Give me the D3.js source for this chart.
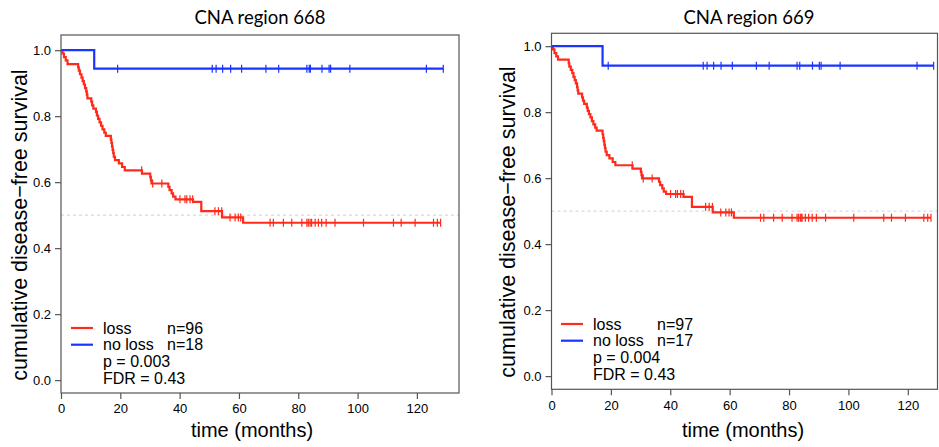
<!DOCTYPE html>
<html>
<head>
<meta charset="utf-8">
<script src="https://cdn.jsdelivr.net/npm/d3@7"></script>
<style>
  body { margin: 0; background: #fff; }
  svg text { font-family: "Liberation Sans", Arial, sans-serif; fill: #000; }
  .title { font-family: "Lato", "Open Sans", sans-serif; }
</style>
</head>
<body>
<svg id="chart" width="939" height="447"></svg>
<script>
// axis ticks
const xTicks = [0, 20, 40, 60, 80, 100, 120];
const yTicks = [0, 0.2, 0.4, 0.6, 0.8, 1.0];

// CNA region 668: [time, survival after step]
const lossSteps668 = [
  [0.5, 0.990], [1.0, 0.979], [1.6, 0.969], [2.2, 0.958], [5.8, 0.948],
  [6.0, 0.938], [6.4, 0.927], [6.9, 0.917], [7.3, 0.906], [7.7, 0.896],
  [8.1, 0.885], [8.5, 0.875], [8.7, 0.865], [8.9, 0.854], [10.2, 0.844],
  [10.5, 0.833], [10.9, 0.823], [11.8, 0.813], [12.1, 0.802], [12.5, 0.792],
  [13.0, 0.781], [13.5, 0.771], [14.0, 0.760], [14.6, 0.750], [15.1, 0.740],
  [16.8, 0.729], [17.0, 0.719], [17.2, 0.708], [17.4, 0.698], [17.6, 0.688],
  [17.8, 0.677], [18.2, 0.667], [19.5, 0.657], [20.6, 0.646], [21.5, 0.636],
  [27.3, 0.626], [30.1, 0.616], [30.3, 0.606], [30.5, 0.596], [36.2, 0.586],
  [36.6, 0.576], [37.3, 0.566], [37.8, 0.556], [38.6, 0.548], [44.5, 0.540],
  [47.3, 0.512], [54.3, 0.493], [61.4, 0.477]
];
const lossCensor668 = [27.2, 30.9, 34.0, 40.1, 41.8, 42.4, 43.5, 44.4, 51.9, 53.1,
  54.2, 57.0, 58.7, 59.8, 60.6, 70.5, 71.6, 75.0, 77.8, 81.2, 82.9, 83.4, 84.0,
  84.5, 85.7, 86.8, 87.9, 89.4, 92.4, 102.0, 112.1, 114.7, 119.4, 125.6, 126.9, 128.0];
const noLossSteps668 = [[11.2, 0.944]];
const noLossCensor668 = [19.1, 51.0, 52.3, 54.5, 57.2, 60.9, 69.1, 73.4, 82.9, 83.7,
  84.1, 88.0, 90.4, 90.9, 97.4, 123.2, 128.9];
const legend668 = ["n=96", "n=18", "p = 0.003", "FDR = 0.43"];

// CNA region 669
const lossSteps669 = [
  [0.5, 0.990], [1.0, 0.979], [1.6, 0.969], [2.2, 0.959], [5.8, 0.948],
  [6.0, 0.938], [6.5, 0.928], [7.0, 0.918], [7.4, 0.907], [7.8, 0.897],
  [8.2, 0.887], [8.6, 0.876], [8.8, 0.866], [9.0, 0.856], [10.3, 0.845],
  [10.6, 0.835], [11.0, 0.825], [11.9, 0.814], [12.2, 0.804], [12.6, 0.794],
  [13.1, 0.784], [13.6, 0.773], [14.1, 0.763], [14.7, 0.753], [15.2, 0.744],
  [17.2, 0.733], [17.4, 0.722], [17.6, 0.712], [17.8, 0.701], [18.0, 0.691],
  [18.2, 0.680], [18.6, 0.670], [19.5, 0.660], [20.6, 0.649], [21.5, 0.639],
  [27.3, 0.629], [30.1, 0.619], [30.3, 0.609], [30.5, 0.599], [36.2, 0.589],
  [36.6, 0.579], [37.3, 0.569], [37.8, 0.559], [38.6, 0.552], [44.5, 0.543],
  [47.3, 0.513], [54.3, 0.496], [61.4, 0.480]
];
const lossCensor669 = [27.2, 30.9, 33.9, 40.1, 41.8, 42.4, 43.5, 44.4, 51.9, 53.1,
  54.2, 57.0, 58.7, 59.8, 60.6, 70.4, 71.5, 74.8, 77.7, 81.0, 82.7, 83.2, 83.8,
  84.1, 84.4, 85.5, 86.6, 87.8, 89.2, 92.3, 101.8, 111.9, 114.5, 119.2, 125.4, 126.7, 127.8];
const noLossSteps669 = [[17.2, 0.941]];
const noLossCensor669 = [19.1, 51.1, 52.4, 54.6, 57.1, 60.9, 69.0, 73.3, 82.7, 83.6,
  87.9, 90.2, 90.8, 97.2, 123.1, 128.7];
const legend669 = ["n=97", "n=17", "p = 0.004", "FDR = 0.43"];

const RED = "#ff2a1a", BLUE = "#1a35ff";

const svg = d3.select("#chart");

// survival value at time t (step function lookup)
function survAt(steps, t) {
  let s = 1;
  steps.forEach(d => { if (d[0] <= t) s = d[1]; });
  return s;
}

function stepPath(steps, censor) {
  const pts = [[0, 1]];
  steps.forEach(d => pts.push([d[0], d[1]]));
  const end = d3.max(censor.concat(steps.map(d => d[0])));
  pts.push([end, steps[steps.length - 1][1]]);
  return pts;
}

function drawPanel(p) {
  const x = d3.scaleLinear().domain(p.xDomain).range([p.left, p.right]);
  const y = d3.scaleLinear().domain(p.yDomain).range([p.bottom, p.top]);
  const g = svg.append("g");

  // dashed median line
  g.append("line")
    .attr("x1", p.left).attr("x2", p.right)
    .attr("y1", y(0.5)).attr("y2", y(0.5))
    .attr("stroke", "#cfcfcf").attr("stroke-width", 1)
    .attr("stroke-dasharray", "3,3");

  const line = d3.line().x(d => x(d[0])).y(d => y(d[1])).curve(d3.curveStepAfter);

  const groups = [
    {steps: p.loss, censor: p.lossCensor, color: RED},
    {steps: p.noLoss, censor: p.noLossCensor, color: BLUE}
  ];
  groups.forEach(gr => {
    g.append("path")
      .attr("d", line(stepPath(gr.steps, gr.censor)))
      .attr("fill", "none").attr("stroke", gr.color)
      .attr("stroke-width", 2.2).attr("stroke-linejoin", "miter");
    g.selectAll(null).data(gr.censor).enter().append("line")
      .attr("x1", d => x(d)).attr("x2", d => x(d))
      .attr("y1", d => y(survAt(gr.steps, d)) - 4)
      .attr("y2", d => y(survAt(gr.steps, d)) + 4)
      .attr("stroke", gr.color).attr("stroke-width", 1.2);
  });

  // box
  g.append("rect")
    .attr("x", p.left).attr("y", p.top)
    .attr("width", p.right - p.left).attr("height", p.bottom - p.top)
    .attr("fill", "none").attr("stroke", "#555").attr("stroke-width", 1.2);

  // axes
  const yAxis = g.append("g")
    .attr("transform", `translate(${p.left},0)`)
    .call(d3.axisLeft(y).tickValues(yTicks).tickFormat(d3.format(".1f")).tickSize(6).tickPadding(4));
  const xAxis = g.append("g")
    .attr("transform", `translate(0,${p.bottom})`)
    .call(d3.axisBottom(x).tickValues(xTicks).tickSize(6).tickPadding(5));
  [yAxis, xAxis].forEach(a => {
    a.select(".domain").remove();
    a.selectAll(".tick line").attr("stroke", "#555").attr("stroke-width", 1.2);
    a.selectAll("text").attr("font-size", "13px").attr("fill", "#111");
  });

  // titles
  g.append("text").attr("class", "title")
    .attr("x", p.titleX).attr("y", 24)
    .attr("text-anchor", "middle").attr("font-size", "18.5px")
    .text(p.title);
  g.append("text")
    .attr("x", p.xLabelX).attr("y", 437)
    .attr("text-anchor", "middle").attr("font-size", "20px")
    .text("time (months)");
  g.append("text")
    .attr("transform", `translate(${p.yLabelX},${p.yLabelY}) rotate(-90)`)
    .attr("text-anchor", "middle").attr("font-size", "21.5px")
    .text("cumulative disease\u2212free survival");

  // legend
  const lg = g.append("g").attr("transform", `translate(${p.legX},${p.legY})`);
  const labels = ["loss", "no loss"];
  [RED, BLUE].forEach((c, i) => {
    lg.append("line")
      .attr("x1", 0).attr("x2", 22)
      .attr("y1", i * 16.7).attr("y2", i * 16.7)
      .attr("stroke", c).attr("stroke-width", 2.2);
    lg.append("text").attr("x", 32).attr("y", i * 16.7 + 5.5)
      .attr("font-size", "16px").text(labels[i]);
    lg.append("text").attr("x", 96).attr("y", i * 16.7 + 5.5)
      .attr("font-size", "16px").text(p.legend[i]);
  });
  [2, 3].forEach(i => {
    lg.append("text").attr("x", 32).attr("y", i * 16.7 + 5.5)
      .attr("font-size", "16px").text(p.legend[i]);
  });
}

drawPanel({
  title: "CNA region 668", titleX: 260,
  left: 61, right: 459, top: 35, bottom: 393,
  xDomain: [0, 134.2], yDomain: [-0.039, 1.046],
  loss: lossSteps668, lossCensor: lossCensor668,
  noLoss: noLossSteps668, noLossCensor: noLossCensor668,
  legend: legend668, legX: 71, legY: 328,
  xLabelX: 252, yLabelX: 27, yLabelY: 225
});

drawPanel({
  title: "CNA region 669", titleX: 749,
  left: 551.5, right: 937.5, top: 33.3, bottom: 389.3,
  xDomain: [0, 130], yDomain: [-0.04, 1.039],
  loss: lossSteps669, lossCensor: lossCensor669,
  noLoss: noLossSteps669, noLossCensor: noLossCensor669,
  legend: legend669, legX: 561, legY: 324,
  xLabelX: 743, yLabelX: 515, yLabelY: 222
});
</script>
</body>
</html>
